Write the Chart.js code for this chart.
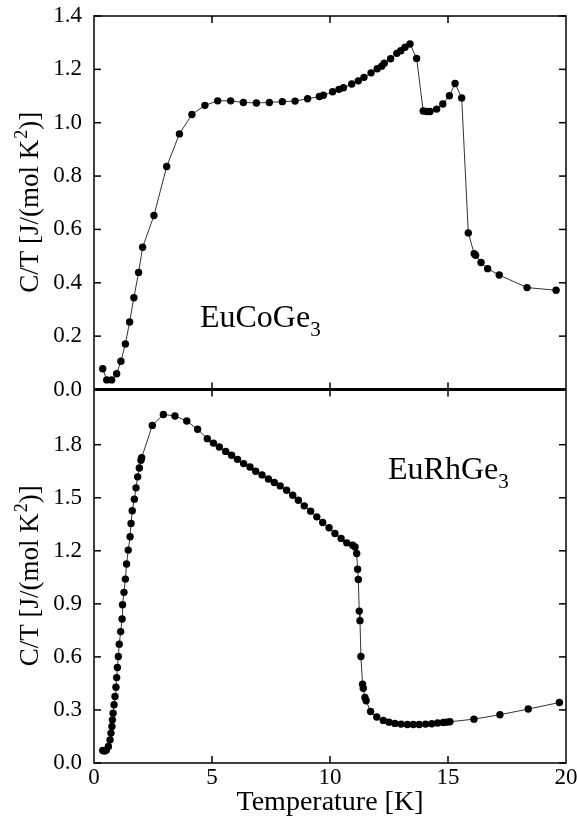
<!DOCTYPE html>
<html>
<head>
<meta charset="utf-8">
<script src="https://cdn.jsdelivr.net/npm/chart.js@4"></script>
<style>
  body { margin: 0; background: #fff; }
  #wrap { width: 577px; height: 821px; position: relative; }
</style>
</head>
<body>
<div id="wrap"><canvas id="chart1"></canvas></div>
<script>
// EuCoGe3 : temperature [K] and C/T [J/(mol K^2)]
const tCo = [0.37, 0.54, 0.75, 0.96, 1.14, 1.33, 1.51, 1.69, 1.89, 2.06, 2.54, 3.08, 3.62, 4.15, 4.70,
  5.24, 5.79, 6.33, 6.88, 7.43, 7.98, 8.52, 9.05, 9.55, 9.72, 10.11, 10.38, 10.57, 10.92, 11.20, 11.44,
  11.74, 12.00, 12.19, 12.30, 12.57, 12.83, 13.00, 13.18, 13.39, 13.67, 13.95, 14.10, 14.24, 14.52,
  14.78, 15.06, 15.30, 15.58, 15.86, 16.11, 16.17, 16.40, 16.68, 17.17, 18.35, 19.58];
const cCo = [0.078, 0.036, 0.036, 0.059, 0.106, 0.171, 0.253, 0.344, 0.439, 0.533, 0.652, 0.836, 0.958, 1.031, 1.065,
  1.082, 1.082, 1.076, 1.074, 1.076, 1.079, 1.081, 1.090, 1.098, 1.103, 1.116, 1.125, 1.131, 1.145, 1.157, 1.170,
  1.187, 1.202, 1.212, 1.223, 1.240, 1.260, 1.270, 1.283, 1.295, 1.241, 1.044, 1.042, 1.042, 1.051,
  1.070, 1.101, 1.147, 1.093, 0.587, 0.509, 0.503, 0.476, 0.453, 0.429, 0.382, 0.372];

// EuRhGe3
const tRh = [0.37, 0.45, 0.52, 0.61, 0.68, 0.72, 0.76, 0.78, 0.81, 0.85, 0.89, 0.93, 0.96, 0.99, 1.03,
  1.07, 1.13, 1.19, 1.21, 1.27, 1.33, 1.38, 1.45, 1.53, 1.57, 1.62, 1.71, 1.78, 1.85, 1.92, 1.99, 2.02,
  2.47, 2.94, 3.43, 3.93, 4.39, 4.80, 5.06, 5.31, 5.58, 5.83, 6.08, 6.34, 6.61, 6.85, 7.12, 7.39, 7.64,
  7.89, 8.16, 8.42, 8.66, 8.91, 9.18, 9.44, 9.69, 9.96, 10.21, 10.47, 10.71, 10.96, 11.06, 11.13, 11.17,
  11.20, 11.24, 11.27, 11.31, 11.38, 11.41, 11.48, 11.53, 11.72, 11.98, 12.26, 12.50, 12.75, 13.01,
  13.28, 13.53, 13.78, 14.05, 14.31, 14.56, 14.80, 14.94, 15.08, 16.10, 17.20, 18.40, 19.72];
const cRh = [0.071, 0.068, 0.072, 0.094, 0.131, 0.169, 0.207, 0.244, 0.282, 0.329, 0.376, 0.429, 0.483, 0.540, 0.602,
  0.672, 0.743, 0.814, 0.895, 0.965, 1.040, 1.125, 1.204, 1.279, 1.354, 1.426, 1.492, 1.556, 1.618, 1.668, 1.712, 1.727,
  1.909, 1.971, 1.962, 1.934, 1.887, 1.834, 1.809, 1.787, 1.762, 1.740, 1.717, 1.693, 1.674, 1.650, 1.629, 1.606, 1.586,
  1.567, 1.542, 1.514, 1.486, 1.454, 1.424, 1.392, 1.360, 1.330, 1.298, 1.270, 1.245, 1.232, 1.222, 1.185, 1.096,
  1.038, 0.859, 0.805, 0.602, 0.446, 0.423, 0.370, 0.352, 0.291, 0.260, 0.241, 0.231, 0.224, 0.220,
  0.218, 0.218, 0.218, 0.220, 0.222, 0.226, 0.229, 0.231, 0.233, 0.248, 0.273, 0.305, 0.342];

const xTicks = [0, 5, 10, 15, 20];
const yTicksCo = [0, 0.2, 0.4, 0.6, 0.8, 1.0, 1.2, 1.4];
const yTicksRh = [0, 0.3, 0.6, 0.9, 1.2, 1.5, 1.8];
const yMaxRh = 2.112;

const serif = 'Liberation Serif';
// y title in three pieces: text, superscript, closing text
const yTitle = ['C/T [J/(mol K', '2', ')]'];

function toPoints(xs, ys) {
  return xs.map((x, i) => ({ x: x, y: ys[i] }));
}

// frame, middle line and inward ticks
const framePlugin = {
  id: 'frame',
  afterDatasetsDraw(chart) {
    const { ctx, chartArea: a, scales } = chart;
    const mid = scales.yCo.bottom;
    const len = 7;
    const seg = (x1, y1, x2, y2) => { ctx.beginPath(); ctx.moveTo(x1, y1); ctx.lineTo(x2, y2); ctx.stroke(); };
    ctx.save();
    ctx.strokeStyle = '#000';
    ctx.lineWidth = 1.5;
    ctx.strokeRect(a.left, a.top, a.right - a.left, a.bottom - a.top);
    xTicks.slice(1, -1).forEach(v => {
      const px = scales.x.getPixelForValue(v);
      seg(px, a.top, px, a.top + len);
      seg(px, mid - len, px, mid + len);
      seg(px, a.bottom - len, px, a.bottom);
    });
    [['yCo', yTicksCo], ['yRh', yTicksRh]].forEach(([id, ticks]) => {
      ticks.forEach(v => {
        const py = scales[id].getPixelForValue(v);
        seg(a.left, py, a.left + len, py);
        seg(a.right - len, py, a.right, py);
      });
    });
    ctx.lineWidth = 3;
    seg(a.left, mid, a.right, mid);
    ctx.restore();
  }
};

// compound names with subscript, y titles with superscript
const labelPlugin = {
  id: 'labels',
  afterDraw(chart) {
    const { ctx, scales } = chart;
    const big = '32px "' + serif + '"';
    const small = '21px "' + serif + '"';
    const put = (name, sub, t, v, yId) => {
      const px = scales.x.getPixelForValue(t);
      const py = scales[yId].getPixelForValue(v);
      ctx.save();
      ctx.fillStyle = '#000';
      ctx.textBaseline = 'alphabetic';
      ctx.font = big;
      ctx.fillText(name, px, py);
      const w = ctx.measureText(name).width;
      ctx.font = small;
      ctx.fillText(sub, px + w, py + 9);
      ctx.restore();
    };
    put('EuCoGe', '3', 4.49, 0.233, 'yCo');
    put('EuRhGe', '3', 12.46, 1.604, 'yRh');

    const mainFont = '27px "' + serif + '"';
    const supFont = '18px "' + serif + '"';
    ['yCo', 'yRh'].forEach(id => {
      const s = scales[id];
      ctx.save();
      ctx.fillStyle = '#000';
      ctx.textBaseline = 'alphabetic';
      ctx.translate(38, (s.top + s.bottom) / 2);
      ctx.rotate(-Math.PI / 2);
      ctx.font = mainFont;
      const w0 = ctx.measureText(yTitle[0]).width;
      const w2 = ctx.measureText(yTitle[2]).width;
      ctx.font = supFont;
      const w1 = ctx.measureText(yTitle[1]).width;
      let x = -(w0 + w1 + w2) / 2;
      ctx.font = mainFont;
      ctx.fillText(yTitle[0], x, 0);
      x += w0;
      ctx.font = supFont;
      ctx.fillText(yTitle[1], x + 1, -11);
      x += w1 + 1;
      ctx.font = mainFont;
      ctx.fillText(yTitle[2], x, 0);
      ctx.restore();
    });
  }
};

window.addEventListener('load', () => {
  const data = {
    datasets: [
      { data: toPoints(tCo, cCo), yAxisID: 'yCo' },
      { data: toPoints(tRh, cRh), yAxisID: 'yRh' }
    ]
  };
  data.datasets.forEach(ds => {
    ds.borderColor = '#333';
    ds.borderWidth = 1;
    ds.pointRadius = 3.7;
    ds.pointBackgroundColor = '#000';
    ds.pointBorderWidth = 0;
    ds.tension = 0;
  });

  const yScale = (ticks, max) => ({
    type: 'linear',
    position: 'left',
    stack: 'panels',
    stackWeight: 1,
    min: 0,
    max: max,
    afterFit: s => { s.width = 94; s.paddingTop = 0; s.paddingBottom = 0; },
    afterBuildTicks: s => { s.ticks = ticks.map(v => ({ value: v })); },
    grid: { display: false, drawTicks: false },
    border: { display: false },
    ticks: {
      padding: 12,
      color: '#000',
      font: { family: serif, size: 23, lineHeight: 1 },
      callback: v => Number(v).toFixed(1)
    },
    title: { display: false }
  });

  new Chart('chart1', {
    type: 'line',
    data,
    plugins: [framePlugin, labelPlugin],
    options: {
      responsive: true,
      maintainAspectRatio: false,
      animation: false,
      devicePixelRatio: 1,
      layout: { padding: { top: 16, right: 11, left: 0, bottom: 0 } },
      plugins: { legend: { display: false }, tooltip: { enabled: false } },
      scales: {
        // in a stack the first scale is placed lowest
        yRh: yScale(yTicksRh, yMaxRh),
        yCo: yScale(yTicksCo, 1.4),
        x: {
          type: 'linear',
          min: 0,
          max: 20,
          afterFit: s => { s.height = 58; s.paddingLeft = 0; s.paddingRight = 0; },
          afterBuildTicks: s => { s.ticks = xTicks.map(v => ({ value: v })); },
          grid: { display: false, drawTicks: false },
          border: { display: false },
          ticks: {
            padding: 3,
            color: '#000',
            maxRotation: 0,
            font: { family: serif, size: 23, lineHeight: 1 }
          },
          title: {
            display: true,
            text: 'Temperature [K]',
            color: '#000',
            font: { family: serif, size: 28, lineHeight: 1 },
            padding: { top: 0, bottom: 4 }
          }
        }
      }
    }
  });
});
</script>
</body>
</html>
